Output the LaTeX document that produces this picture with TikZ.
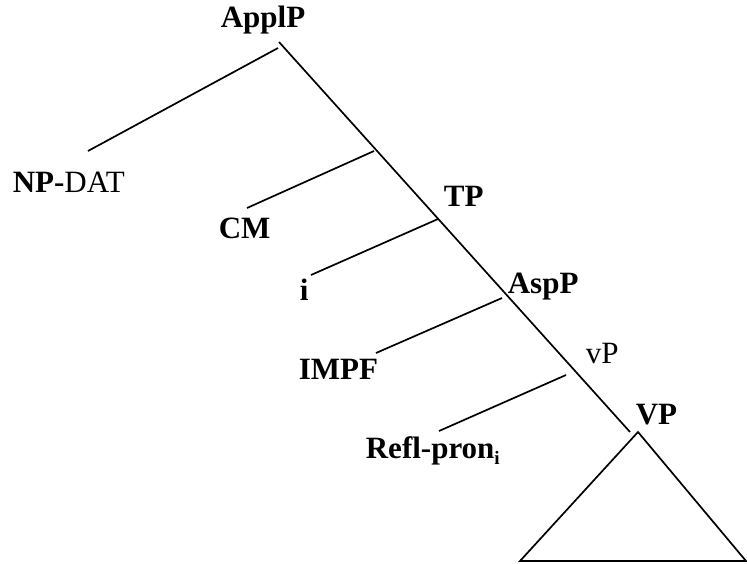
\documentclass[tikz,border=0pt]{standalone}
\usepackage{fontspec}
\setmainfont{Liberation Serif}

\begin{document}
\begin{tikzpicture}[x=1pt,y=-1pt,line width=1.7pt,
  cat/.style={font=\fontsize{31}{33}\selectfont\bfseries,anchor=base west,inner sep=0pt},
  plain/.style={font=\fontsize{31}{33}\selectfont,anchor=base west,inner sep=0pt}]
\useasboundingbox (0,0) rectangle (747,563);

% spine and the left branches
\coordinate (top) at (279,42);
\coordinate (bot) at (630,432);
\draw (top)--(bot);
\foreach \n/\ax/\ay/\lx/\ly in {0/278/48/88/151,1/374/151/247/208,2/438/219/311/275,3/502/298/376/353,4/566/375/439/431}
  {\coordinate (a\n) at (\ax,\ay); \coordinate (l\n) at (\lx,\ly); \draw (a\n)--(l\n);}

% VP triangle
\coordinate (tri) at (638,432);
\coordinate (trl) at (520,561);
\coordinate (trr) at (746,561);
\draw (tri)--(trl)--(trr)--cycle;

% labels
\node[cat] (applp) at (220,27) {ApplP};
\node[cat] (npdat) at (12,192) {NP-\textmd{DAT}};
\node[cat] (cm) at (218,238) {CM};
\node[cat] (tp) at (443,206) {TP};
\node[cat] (idx) at (299,300) {i};
\node[cat] (aspp) at (507,293) {AspP};
\node[cat] (impf) at (298,379) {IMPF};
\node[plain] (vsmall) at (585,363) {vP};
\node[cat] (vp) at (635,424) {VP};
\node[cat] (refl) at (365,458) {Refl-pron\raisebox{-6pt}{\fontsize{19}{19}\selectfont i}};

\end{tikzpicture}
\end{document}
